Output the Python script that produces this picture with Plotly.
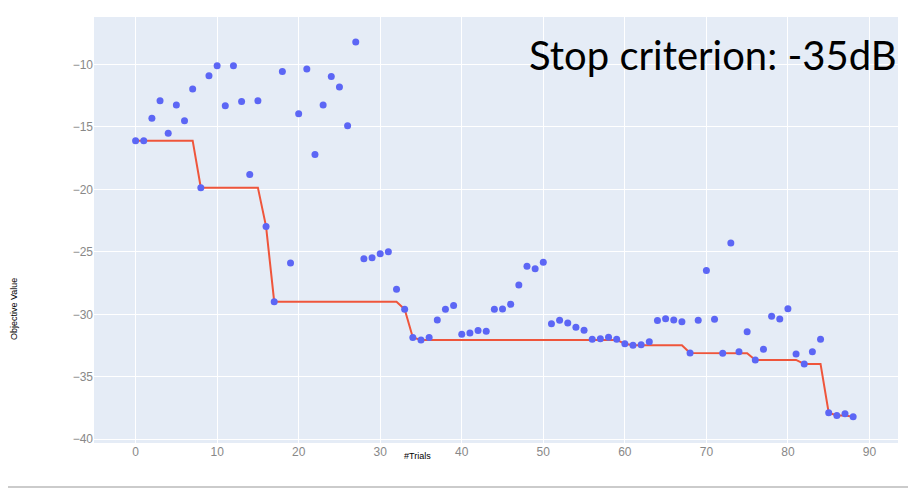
import numpy as np
import plotly.graph_objects as go

# valores (historial de optimizacion)
trials = list(range(89))
objective = [
    -16.1, -16.1, -14.3, -12.9, -15.5, -13.25, -14.5, -11.97, -19.86, -10.9,
    -10.1, -13.3, -10.1, -12.96, -18.8, -12.9, -22.96, -28.99, -10.56, -25.9,
    -13.95, -10.37, -17.2, -13.25, -10.96, -11.8, -14.9, -8.2, -25.55, -25.47,
    -25.15, -25.0, -28.0, -29.6, -31.86, -32.05, -31.86, -30.45, -29.6, -29.3,
    -31.6, -31.5, -31.3, -31.36, -29.6, -29.57, -29.2, -27.65, -26.16, -26.35,
    -25.84, -30.75, -30.48, -30.7, -31.04, -31.28, -32.0, -31.95, -31.84, -32.0,
    -32.35, -32.48, -32.43, -32.2, -30.5, -30.35, -30.45, -30.6, -33.1, -30.48,
    -26.5, -30.4, -33.12, -24.3, -32.99, -31.4, -33.65, -32.8, -30.16, -30.37,
    -29.55, -33.17, -33.97, -32.99, -32.0, -37.87, -38.1, -37.95, -38.2,
]
# mejor valor acumulado
best_value = np.minimum.accumulate(objective)

x_ticks = [0, 10, 20, 30, 40, 50, 60, 70, 80, 90]
y_ticks = [-40, -35, -30, -25, -20, -15, -10]

# la pagina desplaza la figura 8px (margen del body)
OFF = 8
W, H = 916, 501
pl, pr, pt, pb = 94 - OFF, W - 898 + OFF, 17 - OFF, H - 443 + OFF
pw, ph = W - pl - pr, H - pt - pb

def to_paper(px, py):
    # px, py en pixeles de la captura de referencia
    return (px - OFF - pl) / pw, 1 - (py - OFF - pt) / ph

fig = go.Figure()
fig.add_trace(go.Scatter(
    x=trials, y=best_value, mode="lines", name="Best Value",
    line=dict(color="#EF553B", width=2)))
fig.add_trace(go.Scatter(
    x=trials, y=objective, mode="markers", name="Objective Value",
    marker=dict(color="rgb(92,102,245)", size=7)))

fig.update_layout(
    template="plotly",
    width=W, height=H,
    paper_bgcolor="white",
    plot_bgcolor="#E5ECF6",
    showlegend=False,
    margin={"l": pl, "r": pr, "t": pt, "b": pb},
    font=dict(family="Liberation Sans", size=12, color="#888"),
)
fig.update_xaxes(range=[-5.1, 93.5], tickvals=x_ticks, gridcolor="white",
                 zeroline=False, tickfont=dict(size=12, color="#888"))
fig.update_yaxes(range=[-40.3, -6.2], tickvals=y_ticks, gridcolor="white",
                 zeroline=False, tickfont=dict(size=12, color="#888"))

# titulos de ejes como anotaciones
ax, ay = to_paper(417, 456)
fig.add_annotation(text="#Trials", x=ax, y=ay, xref="paper", yref="paper",
                   xanchor="center", yanchor="middle", showarrow=False,
                   font=dict(family="Liberation Sans", size=9, color="black"))
ax, ay = to_paper(14, 309)
fig.add_annotation(text="Objective Value", x=ax, y=ay, xref="paper", yref="paper",
                   xanchor="center", yanchor="middle", textangle=-90, showarrow=False,
                   font=dict(family="Liberation Sans", size=9, color="black"))
ax, ay = to_paper(899, 55)
fig.add_annotation(text="Stop criterion: -35dB", x=ax, y=ay, xref="paper", yref="paper",
                   xanchor="right", yanchor="middle", showarrow=False,
                   font=dict(family="Lato", size=40, color="black"))

# marco de la captura (derecha y abajo)
x0, y0 = to_paper(1, 1)
x1, y1 = to_paper(914, 487)
fig.add_shape(type="rect", xref="paper", yref="paper", x0=x0, y0=y0, x1=x1, y1=y1,
              line=dict(color="#bbb", width=1.5), layer="below")

fig.write_html("out.html")
